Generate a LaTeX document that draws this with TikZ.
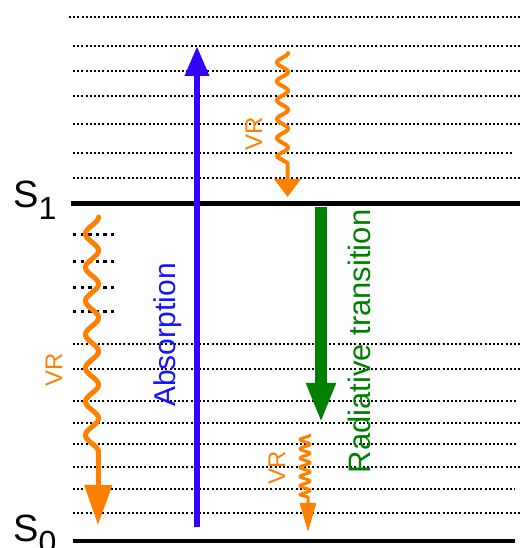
\documentclass[tikz,border=0pt]{standalone}
\usepackage{fontspec}
\setmainfont{Liberation Sans}
\usetikzlibrary{arrows.meta}
\definecolor{vrorange}{RGB}{255,128,0}
\definecolor{absblue}{RGB}{51,0,255}
\definecolor{abstext}{RGB}{20,20,255}
\definecolor{radgreen}{RGB}{0,128,0}

\begin{document}
\begin{tikzpicture}[x=1pt,y=1pt,
  vlevel/.style={line width=2.2pt, dash pattern=on 2pt off 2.2pt},
  vsub/.style={line width=3pt, dash pattern=on 3.4pt off 4.2pt},
  elevel/.style={line width=#1},
  lbl/.style={inner sep=0pt, anchor=base, rotate=90},
  statelbl/.style={inner sep=0pt, anchor=base west, font=\fontsize{38}{40}\selectfont},
  wave/.style={vrorange, line join=round, line cap=round}
]
\useasboundingbox (0,0) rectangle (520,548);

% vibrational sublevels of S1
\draw[vlevel] (69,531) -- (520,531);
\foreach \y in {502,477,452,424,370} \draw[vlevel] (73,\y) -- (520,\y);
\draw[vlevel] (73,395) -- (512,395);

% vibrational sublevels of S0
\foreach \y in {313,286,260,236} \draw[vsub] (73,\y) -- (117,\y);
\foreach \y in {204,179,125,81,35} \draw[vlevel] (73,\y) -- (520,\y);
\foreach \y in {147,104} \draw[vlevel] (73,\y) -- (517,\y);
\draw[vlevel] (73,59) -- (515,59);

% electronic states
\draw[elevel=5.5pt] (71,344.5) -- (520,344.5);
\draw[elevel=4pt] (73,7) -- (515,7);
\node[statelbl] (s1) at (13,340) {S\raisebox{-12pt}{\fontsize{32}{33}\selectfont 1}};
\node[statelbl] (s0) at (13,6) {S\raisebox{-12pt}{\fontsize{32}{33}\selectfont 0}};

% absorption
\coordinate (absA) at (197,21);
\coordinate (absB) at (197,502);
\draw[absblue, line width=6.5pt, -{Triangle[length=30pt,width=23pt]}] (absA) -- (absB);
\node[lbl, abstext, font=\fontsize{30}{32}\selectfont] (abs) at (175,213) {Absorption};

% radiative transition
\coordinate (radA) at (321,341);
\coordinate (radB) at (321,125);
\draw[radgreen, line width=12pt, -{Triangle[length=40pt,width=27pt]}] (radA) -- (radB);
\node[lbl, radgreen, font=\fontsize{31}{33}\selectfont] (rad) at (370,206.5) {Radiative transition};

% vibrational relaxation in S1
\coordinate (vr1end) at (287.5,351);
\draw[wave, line width=4pt, -{Triangle[length=18pt,width=26pt]}]
  plot[domain=0:1, samples=200] ({282.5+5.5*cos(360*5.5*\x)}, {495-104*\x})
  -- (287.5,385) -- (vr1end);
\node[lbl, vrorange, font=\fontsize{24}{26}\selectfont] (vr1) at (262,414.5) {VR};

% vibrational relaxation in S0 after absorption branch
\coordinate (vr2end) at (98,23);
\draw[wave, line width=5pt, -{Triangle[length=40pt,width=27pt]}]
  plot[domain=0:1, samples=240] ({92+6.5*cos(360*7*\x)}, {331-235*\x})
  -- (vr2end);
\node[lbl, vrorange, font=\fontsize{24}{26}\selectfont] (vr2) at (62,178) {VR};

% vibrational relaxation in S0 after emission
\coordinate (vr3end) at (308,16);
\draw[wave, line width=3pt, -{Triangle[length=29pt,width=16pt]}]
  plot[domain=0:1, samples=240] ({305+5*cos(360*6.5*\x)}, {113-60*\x})
  -- (308,51) -- (vr3end);
\node[lbl, vrorange, font=\fontsize{24}{26}\selectfont] (vr3) at (285,80.5) {VR};
\end{tikzpicture}
\end{document}
